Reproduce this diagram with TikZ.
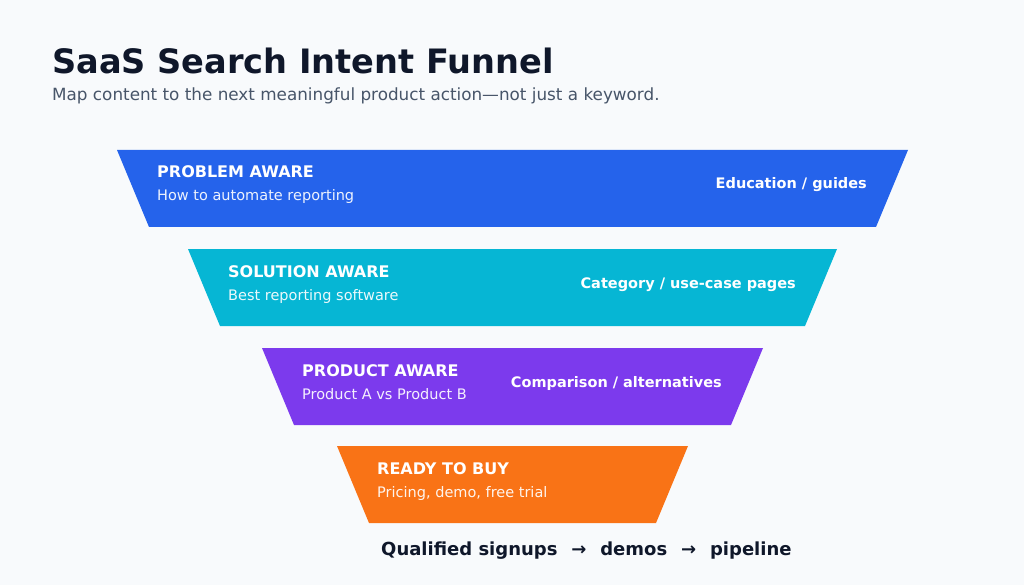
\documentclass[tikz,border=0pt]{standalone}
\usepackage{fontspec}
\setmainfont{DejaVu Sans}
\usepackage{xcolor}
\usetikzlibrary{positioning}

\definecolor{pagebg}{HTML}{F8FAFC}
\definecolor{inkdark}{HTML}{0F172A}
\definecolor{inkmuted}{HTML}{475569}
\definecolor{stageblue}{HTML}{2563EB}
\definecolor{stagecyan}{HTML}{06B6D4}
\definecolor{stagepurple}{HTML}{7C3AED}
\definecolor{stageorange}{HTML}{F97316}

\begin{document}
\begin{tikzpicture}[x=1pt, y=-1pt,
  headline/.style={anchor=base west, inner sep=0pt, text=inkdark,
    font=\fontsize{33.6}{40}\selectfont\bfseries},
  subline/.style={anchor=base west, inner sep=0pt, text=inkmuted,
    font=\fontsize{16.8}{20}\selectfont},
  stagelabel/.style={anchor=base west, inner sep=0pt, text=white,
    font=\fontsize{16}{19}\selectfont\bfseries},
  stagequery/.style={anchor=base west, inner sep=0pt, text=white, text opacity=0.92,
    font=\fontsize{14.5}{17}\selectfont},
  stageasset/.style={anchor=base east, inner sep=0pt, text=white,
    font=\fontsize{14.5}{17}\selectfont\bfseries},
  outcome/.style={anchor=base west, inner sep=0pt, text=inkdark,
    font=\fontsize{18}{22}\selectfont\bfseries},
]
  \fill[pagebg] (0,0) rectangle (1024,585);
  \useasboundingbox (0,0) rectangle (1024,585);

  \node[headline] (title) at (52,74) {SaaS Search Intent Funnel};
  \node[subline] (subtitle) at (52,101) {Map content to the next meaningful product action—not just a keyword.};

  % funnel stages: top edge, left x, right x
  \foreach \n/\yt/\xl/\xr/\col/\lab/\qry/\asset in {
    1/150/117/908/stageblue/{PROBLEM AWARE}/{How to automate reporting}/{Education / guides},
    2/249/188/837/stagecyan/{SOLUTION AWARE}/{Best reporting software}/{Category / use-case pages},
    3/348/262/763/stagepurple/{PRODUCT AWARE}/{Product A vs Product B}/{Comparison / alternatives},
    4/446/337/688/stageorange/{READY TO BUY}/{Pricing, demo, free trial}/{}}
  {
    \fill[\col] (\xl,\yt) -- (\xr,\yt) -- (\xr-32,\yt+77) -- (\xl+32,\yt+77) -- cycle;
    \node[stagelabel] (lab\n) at (\xl+40,\yt+28) {\lab};
    \node[stagequery] (qry\n) at (\xl+40,\yt+51) {\qry};
    \node[stageasset] (asset\n) at (\xr-41,\yt+39) {\asset};
  }

  \node[outcome] (result) at (381,555) {Qualified signups\hspace{0.77em}→\hspace{0.77em}demos\hspace{0.77em}→\hspace{0.77em}pipeline};
\end{tikzpicture}
\end{document}
